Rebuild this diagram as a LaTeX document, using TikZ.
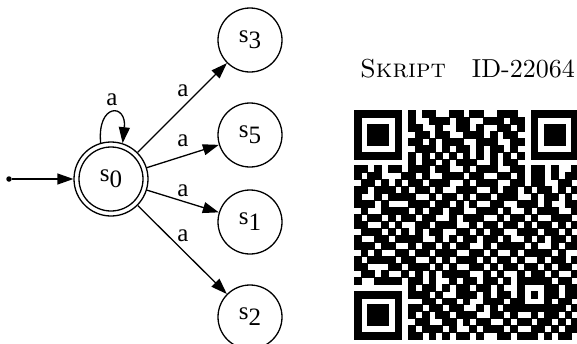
\documentclass[tikz,border=0pt]{standalone}
\usepackage{fontspec}
\newfontfamily\tms{Liberation Serif}
\newfontfamily\lmten{lmroman10-regular.otf}[SmallCapsFont=lmromancaps10-regular.otf]
\usetikzlibrary{arrows.meta}
\newcount\qrcol
\def\qrrowno{0}
\def\qrparse#1{\ifx\relax#1\else\if1#1\fill[qrmod] ({354+\the\qrcol*6.8},{110+\qrrowno*6.95}) rectangle ++(6.8,6.95);\fi\advance\qrcol by 1 \expandafter\qrparse\fi}
\newcommand\qrline[2]{\qrcol=0 \def\qrrowno{#1}\qrparse#2\relax}
\begin{document}
\begin{tikzpicture}[x=1bp,y=-1bp,
  state/.style={circle, draw, line width=1.3bp, minimum size=64bp, inner sep=0pt, font=\tms\fontsize{25bp}{28bp}\selectfont},
  accstate/.style={state, minimum size=74bp},
  edge/.style={line width=1.3bp, -{Triangle[length=16bp,width=11bp]}},
  lbl/.style={font=\tms\fontsize{25bp}{28bp}\selectfont, inner sep=0pt},
  qrmod/.style={fill=black, draw=black, line width=0.3bp}]
\useasboundingbox (0,0) rectangle (577,343);
\clip (0,0) rectangle (577,343);
% automaton
\node[circle, fill, inner sep=0pt, minimum size=5.5bp] (start) at (9,179) {};
\node[accstate] (s0) at (111,179) {s\raisebox{-6bp}{0}};
\draw[line width=1.3bp] (s0.center) circle (32);
\node[state] (s3) at (250,40) {s\raisebox{-6bp}{3}};
\node[state] (s5) at (250,135) {s\raisebox{-6bp}{5}};
\node[state] (s1) at (250,222) {s\raisebox{-6bp}{1}};
\node[state] (s2) at (250,317) {s\raisebox{-6bp}{2}};
\draw[edge] (start) -- (s0);
\draw[edge] (s0.106) .. controls (97,103) and (127,103) .. (s0.72);
\draw[edge] (s0) -- (s3);
\draw[edge] (s0) -- (s5);
\draw[edge] (s0) -- (s1);
\draw[edge] (s0) -- (s2);
\node[lbl] (lloop) at (112,100) {a};
\node[lbl] (l3) at (183,91) {a};
\node[lbl] (l5) at (183,141) {a};
\node[lbl] (l1) at (183,191) {a};
\node[lbl] (l2) at (183,236) {a};
% title
\node[anchor=base east, inner sep=0pt, font=\lmten\fontsize{26bp}{30bp}\selectfont] (title) at (575,77) {\textsc{Skript}\quad ID-22064};
% QR code
\qrline{0}{111111101011001101100111001111111}
\qrline{1}{100000101001110110011101101000001}
\qrline{2}{101110101100100110100110101011101}
\qrline{3}{101110100110110011101011001011101}
\qrline{4}{101110101101011100111001101011101}
\qrline{5}{100000100111010110101101001000001}
\qrline{6}{111111101010101010101010101111111}
\qrline{7}{000000001011010111001011000000000}
\qrline{8}{110101101110110010111001101101001}
\qrline{9}{101100011010011101100110101101011}
\qrline{10}{011010101101110010111001101100110}
\qrline{11}{110111010110100111001011010110101}
\qrline{12}{100101111001011010110111001011010}
\qrline{13}{111010001110110101001100111010011}
\qrline{14}{010011110101101100111010010111001}
\qrline{15}{101101011011001011100101101001110}
\qrline{16}{110010100110111001011011010110101}
\qrline{17}{011101010101100110101100111011010}
\qrline{18}{100110111100101011011010010101101}
\qrline{19}{111011001011010110010111101001011}
\qrline{20}{010100110110111001101001011110100}
\qrline{21}{101111011001010111010110100101101}
\qrline{22}{110001101110101001101011011010110}
\qrline{23}{011010010101011110010100101101001}
\qrline{24}{100111101101001011011010111110110}
\qrline{25}{000000001011010110110100100011011}
\qrline{26}{111111101110100111010110101011011}
\qrline{27}{100000100011011010011101100010110}
\qrline{28}{101110101101101100101011111111101}
\qrline{29}{101110101010110111001101001011010}
\qrline{30}{101110100110011010110010110110101}
\qrline{31}{100000101011101001011101001101011}
\qrline{32}{111111101101010110100110111010110}
\end{tikzpicture}
\end{document}
